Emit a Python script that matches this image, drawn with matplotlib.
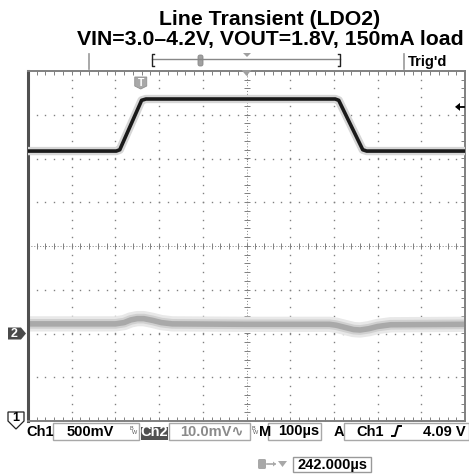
import numpy as np
import matplotlib
matplotlib.use("Agg")
import matplotlib.pyplot as plt
from matplotlib.patches import Rectangle, Polygon, FancyBboxPatch

W, H = 469, 475

title_lines = ["Line Transient (LDO2)", "VIN=3.0\u20134.2V, VOUT=1.8V, 150mA load"]

# Ch1 (VIN step), volts, 500 mV/div, ground marker at -4 div
ch1_t = [-500, -298, -290, -240, -230, 203, 211, 266, 275, 500]   # us
ch1_v = [3.085, 3.085, 3.10, 3.665, 3.68, 3.68, 3.665, 3.10, 3.085, 3.085]
ch1_scale, ch1_pos = 0.5, -4.0

# Ch2 (VOUT, AC), mV, 10 mV/div, ground marker at -2 div
ch2_t = [-500, -300, -280, -265, -250, -235, -215, -195, -170, 0,
         190, 205, 225, 245, 260, 280, 300, 330, 500]
ch2_mv = [2.2, 2.2, 2.5, 3.1, 3.4, 3.4, 3.0, 2.5, 2.2, 2.1,
          2.1, 1.9, 1.4, 0.9, 0.8, 1.1, 1.6, 2.0, 2.1]
ch2_scale, ch2_pos = 10.0, -2.0

trig_level = 3.59          # V, marker on the right
trig_time = -242           # us, "T" marker
status = ["Ch1", "500mV", "Ch2", "10.0mV\u223f", "M", "100\u00b5s", "A", "Ch1", "4.09 V"]
delay_text = "242.000\u00b5s"

plt.rcParams['font.family'] = ['Liberation Sans', 'DejaVu Sans']

fig = plt.figure(figsize=(W / 100, H / 100), dpi=100)
fig.patch.set_facecolor('white')

# graticule area in pixels
L, R, T, B = 28, 465, 71, 421
ax = fig.add_axes([L / W, (H - B) / H, (R - L) / W, (B - T) / H])
ax.set_xlim(-500, 500)
ax.set_ylim(-4, 4)
ax.set_xticks([])
ax.set_yticks([])
for s in ax.spines.values():
    s.set_color('#808080')
    s.set_linewidth(1.4)
ax.spines['left'].set_color('#505050')
ax.spines['left'].set_linewidth(2.2)

gc = '#808080'
ys = np.arange(-4, 4.001, 0.2)
xs = np.arange(-500, 500.1, 20)
for xk in range(-400, 401, 100):
    if xk != 0:
        ax.plot([xk] * len(ys), ys, 's', ms=1.0, mew=0, color=gc, zorder=1)
for yk in range(-3, 4):
    if yk != 0:
        ax.plot(xs, [yk] * len(xs), 's', ms=1.0, mew=0, color=gc, zorder=1)
# centre cross with ticks
ax.axhline(0, color=gc, lw=0.7, ls=(0, (1, 2)), zorder=1)
ax.axvline(0, color=gc, lw=0.7, ls=(0, (1, 2)), zorder=1)
ax.plot(xs, [0] * len(xs), '|', ms=4, mew=0.7, color=gc, zorder=1)
ax.plot([0] * len(ys), ys, '_', ms=4, mew=0.7, color=gc, zorder=1)
# border ticks (half clipped -> inward)
ax.plot(xs, [4] * len(xs), '|', ms=6, mew=0.7, color=gc, zorder=1)
ax.plot(xs, [-4] * len(xs), '|', ms=6, mew=0.7, color=gc, zorder=1)
ax.plot([500] * len(ys), ys, '_', ms=6, mew=0.7, color=gc, zorder=1)

# traces
ch1_div = [v / ch1_scale + ch1_pos for v in ch1_v]
ch2_div = [v / ch2_scale + ch2_pos for v in ch2_mv]
ax.plot(ch2_t, ch2_div, color='#e8e8e8', lw=11, solid_joinstyle='round', zorder=2)
ax.plot(ch2_t, ch2_div, color='#d0d0d0', lw=7, solid_joinstyle='round', zorder=2)
ax.plot(ch2_t, ch2_div, color='#a9a9a9', lw=4, solid_joinstyle='round', zorder=2)
ax.plot(ch1_t, ch1_div, color='#d6d6d6', lw=6, solid_joinstyle='round', zorder=3)
ax.plot(ch1_t, ch1_div, color='#1a1a1a', lw=2.6, solid_joinstyle='round', zorder=3)

# overlay in pixel coordinates
ov = fig.add_axes([0, 0, 1, 1], zorder=5)
ov.set_xlim(0, W)
ov.set_ylim(H, 0)
ov.axis('off')

def px_x(t):
    return L + (t + 500) / 1000 * (R - L)

def px_y(d):
    return T + (4 - d) / 8 * (B - T)

for i, line in enumerate(title_lines):
    ov.text(270, [25, 45][i], line, ha='center', va='baseline',
            fontsize=15.3, fontweight='bold', color='black')

# record-view bar
ov.plot([89, 89], [54, 69], color='#999999', lw=1.2)
ov.plot([152, 340], [59, 59], color='#888888', lw=1.0)
ov.plot([154, 152, 152, 154], [54, 54, 66, 66], color='#222222', lw=1.0)
ov.plot([338, 340, 340, 338], [54, 54, 66, 66], color='#222222', lw=1.0)
ov.add_patch(FancyBboxPatch((198, 55), 5, 11, boxstyle='round,pad=0,rounding_size=2',
                            fc='#a0a0a0', ec='#888888', lw=0.6))
ov.add_patch(Polygon([(243, 53), (251, 53), (247, 57)], closed=True, fc='#a0a0a0', ec='none'))
ov.plot([404, 404], [54, 69], color='#999999', lw=1.2)
ov.text(408, 66, "Trig'd", ha='left', va='baseline', fontsize=10.5, fontweight='bold')

# expansion point triangle on top border
xc = px_x(0)
ov.add_patch(Polygon([(xc - 5, 70), (xc + 5, 70), (xc, 76)], closed=True, fc='#a0a0a0', ec='none'))

# trigger T marker
tx = px_x(trig_time)
ov.add_patch(Polygon([(tx - 6, 77), (tx + 6, 77), (tx + 6, 86), (tx, 89), (tx - 6, 86)],
                     closed=True, fc='#a8a8a8', ec='#909090', lw=0.6))
ov.text(tx, 83, "T", ha='center', va='center', fontsize=7.5, color='white', fontweight='bold')

# trigger level arrow
ty = px_y(trig_level / ch1_scale + ch1_pos)
ov.add_patch(Polygon([(455, ty), (460, ty - 4), (460, ty + 4)], closed=True, fc='black', ec='none'))
ov.plot([459, 464], [ty, ty], color='black', lw=1.3)

# channel ground markers
y2 = px_y(ch2_pos)
ov.add_patch(Polygon([(8, y2 - 6), (21, y2 - 6), (26, y2), (21, y2 + 6), (8, y2 + 6)],
                     closed=True, fc='#4a4a4a', ec='none'))
ov.text(14.5, y2 + 0.5, "2", ha='center', va='center', fontsize=9, fontweight='bold', color='white')
ov.add_patch(Polygon([(8, 412), (24, 412), (24, 421), (16, 429), (8, 421)],
                     closed=True, fc='white', ec='#222222', lw=0.9))
ov.text(16, 418, "1", ha='center', va='center', fontsize=9, fontweight='bold', color='black')

# status line
by = 435.5
box_ec = '#a8a8a8'
for x0, x1 in [(53, 139), (169, 250), (268, 321), (344, 469)]:
    ov.add_patch(Rectangle((x0, 423), x1 - x0, 17, fc='none', ec=box_ec, lw=1.0))
ov.add_patch(Rectangle((141, 427), 27, 13, fc='#505050', ec='none'))
fs = 10.5
ov.text(26, by, status[0], ha='left', va='baseline', fontsize=fs, fontweight='bold')
ov.text(67, by, status[1], ha='left', va='baseline', fontsize=fs, fontweight='bold')
ov.text(154.5, by, status[2], ha='center', va='baseline', fontsize=fs, fontweight='bold', color='white')
ov.text(180, by, status[3], ha='left', va='baseline', fontsize=fs, fontweight='bold', color='#8a8a8a')
ov.text(259, by, status[4], ha='left', va='baseline', fontsize=fs, fontweight='bold')
ov.text(278, by, status[5], ha='left', va='baseline', fontsize=fs, fontweight='bold')
ov.text(334, by, status[6], ha='left', va='baseline', fontsize=fs, fontweight='bold')
ov.text(356, by, status[7], ha='left', va='baseline', fontsize=fs, fontweight='bold')
ov.text(466, by, status[8], ha='right', va='baseline', fontsize=fs, fontweight='bold')
for bx in (130, 251):
    ov.text(bx, 429, "B", ha='left', va='center', fontsize=4, color='#555555')
    ov.text(bx + 2, 433, "W", ha='left', va='center', fontsize=4, color='#555555')
# rising edge symbol
ov.plot([392, 395, 398, 401], [436, 436, 426, 426], color='black', lw=1.4)

# delay readout
ov.add_patch(FancyBboxPatch((258, 459), 8, 10, boxstyle='round,pad=0,rounding_size=1.5',
                            fc='#a8a8a8', ec='none'))
ov.plot([267, 275], [464, 464], color='#a8a8a8', lw=1.2)
ov.add_patch(Polygon([(273, 461.5), (276, 464), (273, 466.5)], closed=True, fc='#a8a8a8', ec='none'))
ov.add_patch(Polygon([(278, 461), (287, 461), (282.5, 467)], closed=True, fc='#a8a8a8', ec='none'))
ov.add_patch(Rectangle((293, 457), 78, 15, fc='none', ec='#999999', lw=1.0))
ov.text(297, 468.5, delay_text, ha='left', va='baseline', fontsize=fs, fontweight='bold')

fig.savefig("out.png", dpi=100, facecolor='white')
